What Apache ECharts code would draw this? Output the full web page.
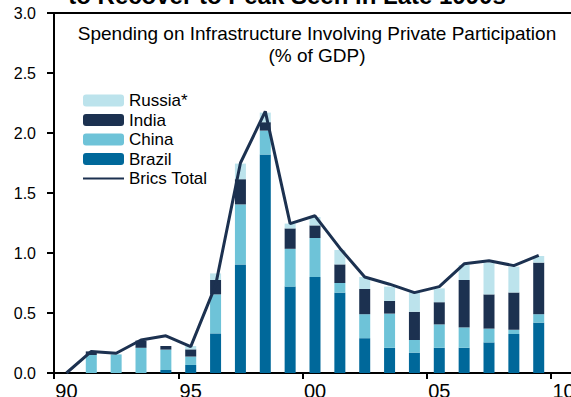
<!DOCTYPE html>
<html>
<head>
<meta charset="utf-8">
<script src="https://cdn.jsdelivr.net/npm/echarts@6/dist/echarts.min.js"></script>
<style>
html,body{margin:0;padding:0;background:#fff;}
#chart{width:571px;height:397px;}
</style>
</head>
<body>
<div id="chart"></div>
<script>
const years = ['1990','1991','1992','1993','1994','1995','1996','1997','1998','1999','2000','2001','2002','2003','2004','2005','2006','2007','2008','2009','2010'];
const brazil = [0, 0, 0, 0, 0.025, 0.067, 0.33, 0.905, 1.82, 0.72, 0.80, 0.67, 0.29, 0.21, 0.17, 0.21, 0.21, 0.255, 0.325, 0.42, null];
const china  = [0, 0.15, 0.155, 0.21, 0.17, 0.07, 0.325, 0.50, 0.20, 0.315, 0.325, 0.08, 0.20, 0.285, 0.105, 0.195, 0.17, 0.115, 0.035, 0.07, null];
const india  = [0, 0.03, 0, 0.06, 0.03, 0.06, 0.12, 0.21, 0.07, 0.17, 0.105, 0.155, 0.21, 0.105, 0.235, 0.185, 0.395, 0.285, 0.31, 0.43, null];
const russia = [0, 0, 0, 0, 0, 0.028, 0.055, 0.13, 0.08, 0.04, 0.07, 0.12, 0.10, 0.12, 0.16, 0.115, 0.125, 0.265, 0.215, 0.055, null];
const bricsTotal = [0, 0.18, 0.165, 0.275, 0.31, 0.22, 0.73, 1.75, 2.18, 1.245, 1.31, 1.04, 0.80, 0.74, 0.67, 0.72, 0.91, 0.935, 0.895, 0.98, null];
const yTicks = [0, 0.5, 1.0, 1.5, 2.0, 2.5, 3.0];

const C_BRAZIL = '#00689A', C_CHINA = '#6EC3D8', C_INDIA = '#1C3150', C_RUSSIA = '#BCE3EC', C_LINE = '#1C3150';
const FONT = 'Liberation Sans, Arial, sans-serif';

const chart = echarts.init(document.getElementById('chart'), null, {renderer: 'svg'});
const barBase = {type: 'bar', stack: 'b', barWidth: 11, emphasis: {disabled: true}};
chart.setOption({
  animation: false,
  textStyle: {fontFamily: FONT},
  title: [{
    text: 'to Recover to Peak Seen in Late 1990s',
    left: 287, top: -17, textAlign: 'center', padding: 0,
    textStyle: {fontFamily: FONT, fontWeight: 'bold', fontSize: 24, color: '#000'}
  }, {
    text: 'Spending on Infrastructure Involving Private Participation\n(% of GDP)',
    left: 317, top: 22, textAlign: 'center', padding: 0,
    textStyle: {fontFamily: FONT, fontWeight: 'normal', fontSize: 19, lineHeight: 22, color: '#000'}
  }],
  grid: {left: 54, top: 13, width: 522, bottom: 24, containLabel: false, outerBoundsMode: 'none'},
  legend: {
    orient: 'vertical', left: 82, top: 92, padding: 0,
    itemWidth: 41, itemHeight: 12, itemGap: 2.5,
    textStyle: {fontFamily: FONT, fontSize: 17, color: '#000', lineHeight: 17},
    data: ['Russia*', 'India', 'China', 'Brazil',
      {name: 'Brics Total', itemStyle: {color: 'rgba(0,0,0,0)', borderWidth: 0, opacity: 0}}]
  },
  xAxis: [{
    type: 'category', data: years, position: 'bottom',
    axisLine: {lineStyle: {color: '#000', width: 2}},
    axisTick: {show: true, length: 6, lineStyle: {color: '#000', width: 2}},
    axisLabel: {interval: 4, margin: 8, fontSize: 20, color: '#000', fontFamily: FONT,
      formatter: v => v.slice(2)}
  }, {
    type: 'category', data: years, position: 'top',
    axisLine: {show: true, lineStyle: {color: '#000', width: 2}},
    axisTick: {show: false}, axisLabel: {show: false}
  }],
  yAxis: {
    type: 'value', min: 0, max: 3, interval: 0.5,
    axisLine: {show: true, lineStyle: {color: '#000', width: 2}},
    axisTick: {show: true, length: 7, lineStyle: {color: '#000', width: 2}},
    splitLine: {show: false},
    axisLabel: {margin: 18, fontSize: 16, color: '#000', fontFamily: FONT,
      formatter: v => v.toFixed(1)}
  },
  series: [
    Object.assign({name: 'Brazil', data: brazil, itemStyle: {color: C_BRAZIL}}, barBase),
    Object.assign({name: 'China', data: china, itemStyle: {color: C_CHINA}}, barBase),
    Object.assign({name: 'India', data: india, itemStyle: {color: C_INDIA}}, barBase),
    Object.assign({name: 'Russia*', data: russia, itemStyle: {color: C_RUSSIA}}, barBase),
    {name: 'Brics Total', type: 'line', data: bricsTotal, symbol: 'none', z: 5,
      lineStyle: {color: C_LINE, width: 3}, itemStyle: {color: C_LINE},
      emphasis: {disabled: true}}
  ]
});
</script>
</body>
</html>
